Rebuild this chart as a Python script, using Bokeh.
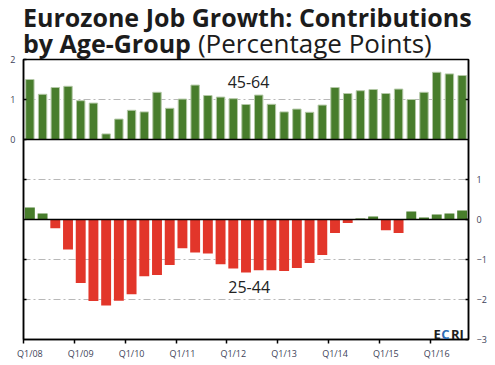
from bokeh.plotting import figure
from bokeh.models import Range1d, LinearAxis, FixedTicker, Grid, Span, Label, Div
from bokeh.layouts import column
from bokeh.embed import file_html
from bokeh.resources import INLINE

# ---- data ----
quarters = [f"Q{q}/{y:02d}" for y in range(8, 17) for q in range(1, 5)][:35]
age_45_64 = [1.50, 1.13, 1.30, 1.33, 0.97, 0.91, 0.14, 0.51, 0.73, 0.69,
             1.18, 0.78, 1.01, 1.36, 1.10, 1.06, 1.02, 0.875, 1.11, 0.88,
             0.69, 0.76, 0.68, 0.86, 1.30, 1.15, 1.22, 1.25, 1.15, 1.26,
             1.00, 1.18, 1.68, 1.64, 1.60]
age_25_44 = [0.30, 0.15, -0.22, -0.75, -1.59, -2.04, -2.15, -2.03, -1.87, -1.42,
             -1.39, -1.14, -0.72, -0.825, -0.85, -1.12, -1.225, -1.325, -1.27, -1.27,
             -1.29, -1.21, -1.09, -0.89, -0.34, -0.09, 0.025, 0.075, -0.27, -0.34,
             0.20, 0.05, 0.125, 0.15, 0.225]
top_ticks = [0, 1, 2]
bottom_ticks = [-3, -2, -1, 0, 1]
top_grid = [1]
bottom_grid = [-2, -1, 1]

title_bold_1 = "Eurozone Job Growth: Contributions"
title_bold_2 = "by Age-Group"
title_normal_2 = "(Percentage Points)"

GREEN = "#487d2c"
RED = "#e2362a"
LABEL_COLOR = "#3d3f58"
TITLE_COLOR = "#1c1c1c"
FONT = "Open Sans"

xs = list(range(len(quarters)))
year_idx = [i for i, q in enumerate(quarters) if q.startswith("Q1")]

bottom_range = Range1d(-3, 4)
panel_shift = 2  # value on bottom scale where the top panel's zero sits
top_range = Range1d(bottom_range.start - panel_shift, bottom_range.end - panel_shift)

p = figure(frame_width=445, frame_height=280, x_range=Range1d(-0.5, len(quarters) - 0.5),
           y_range=bottom_range, output_backend="svg", toolbar_location=None,
           x_axis_location=None, y_axis_location=None,
           min_border_left=23, min_border_right=24, min_border_top=9, min_border_bottom=24)
p.extra_y_ranges = {"top": top_range}
p.grid.visible = False
p.outline_line_color = "black"
p.outline_line_width = 1.5
p.background_fill_color = "white"
p.border_fill_color = None

# grids
for ticks, rname in [(top_grid, "top"), (bottom_grid, "default")]:
    g = Grid(dimension=1, ticker=FixedTicker(ticks=ticks), y_range_name=rname,
             grid_line_color="#b8b8b8", grid_line_width=1, grid_line_dash="7 3 2 3")
    p.add_layout(g)

# bars
p.vbar(x=xs, top=age_45_64, bottom=0, width=0.66, y_range_name="top",
       fill_color=GREEN, line_color="#b3c8a6", line_width=1)
colors = [GREEN if v >= 0 else RED for v in age_25_44]
p.vbar(x=xs, top=age_25_44, bottom=0, width=0.78, fill_color=colors, line_color=None)

# zero lines
p.add_layout(Span(location=0, dimension="width", line_color="black", line_width=1.5))
p.add_layout(Span(location=0, dimension="width", y_range_name="top",
                  line_color="black", line_width=1.5))

# axes
xaxis = LinearAxis(ticker=FixedTicker(ticks=year_idx, minor_ticks=[i - 0.5 for i in year_idx]),
                   major_label_overrides={i: quarters[i] for i in year_idx})
xaxis.major_tick_line_color = None
xaxis.major_tick_out = 0
xaxis.minor_tick_out = 4
xaxis.minor_tick_in = 0
xaxis.minor_tick_line_width = 1.5
xaxis.axis_line_width = 1.5
xaxis.major_label_standoff = 3
xaxis.major_label_text_font = FONT
xaxis.major_label_text_font_size = "9px"
xaxis.major_label_text_color = LABEL_COLOR
p.add_layout(xaxis, "below")

yleft = LinearAxis(y_range_name="top",
                   ticker=FixedTicker(ticks=top_ticks,
                                      minor_ticks=[v - panel_shift for v in bottom_grid]))
yleft.major_tick_in = 3
yleft.major_tick_out = 0
yleft.minor_tick_in = 3
yleft.minor_tick_out = 0
yleft.minor_tick_line_width = 1.5
yleft.major_tick_line_width = 1.5
yleft.axis_line_width = 1.5
yleft.major_label_standoff = 8
yleft.major_label_text_font = FONT
yleft.major_label_text_font_size = "9px"
yleft.major_label_text_color = LABEL_COLOR
p.add_layout(yleft, "left")

yright = LinearAxis(ticker=FixedTicker(ticks=bottom_ticks,
                                       minor_ticks=[v + panel_shift for v in top_grid]))
yright.major_tick_in = 3
yright.major_tick_out = 0
yright.minor_tick_in = 3
yright.minor_tick_out = 0
yright.minor_tick_line_width = 1.5
yright.major_tick_line_width = 1.5
yright.axis_line_width = 1.5
yright.major_label_standoff = 8
yright.major_label_text_font = FONT
yright.major_label_text_font_size = "9px"
yright.major_label_text_color = LABEL_COLOR
p.add_layout(yright, "right")

# series labels
p.add_layout(Label(x=17.2, y=1.45, y_range_name="top", text="45-64", text_align="center",
                   text_baseline="alphabetic",
                   text_font=FONT, text_font_size="16px", text_color="#222222"))
p.add_layout(Label(x=17.25, y=-1.68, text="25-44", text_align="center",
                   text_baseline="alphabetic",
                   text_font=FONT, text_font_size="16px", text_color="#222222"))

# ECRI mark
for txt, xx, col in [("E", 410, "#1e1e1e"), ("C", 417.8, "#2d6db5"), ("RI", 427.5, "#1e1e1e")]:
    p.add_layout(Label(x=xx, y=6, x_units="screen", y_units="screen", text=txt,
                       text_baseline="alphabetic",
                       text_font=FONT, text_font_size="13px", text_font_style="bold",
                       text_color=col))

blk = "display: inline-block; height: 26px; line-height: 26px; vertical-align: top; overflow: visible;"
title_html = (
    f'<div style="font-family: \'{FONT}\'; color: {TITLE_COLOR}; font-size: 25px; '
    f'line-height: 26px; padding: 4px 0 0 23px; white-space: nowrap;">'
    f'<div style="height: 26px;"><b style="{blk}">{title_bold_1}</b></div>'
    f'<div style="height: 26px;"><b style="{blk}">{title_bold_2}</b>'
    f'<span style="{blk} font-size: 26px; margin-left: 7px;">{title_normal_2}</span></div>'
    f'</div>'
)
title = Div(text=title_html, width=495, height=50, margin=(0, 0, 0, 0),
            styles={"overflow": "visible", "z-index": "1"})

layout = column(title, p, spacing=0)
open("out.html", "w").write(file_html(layout, INLINE))
